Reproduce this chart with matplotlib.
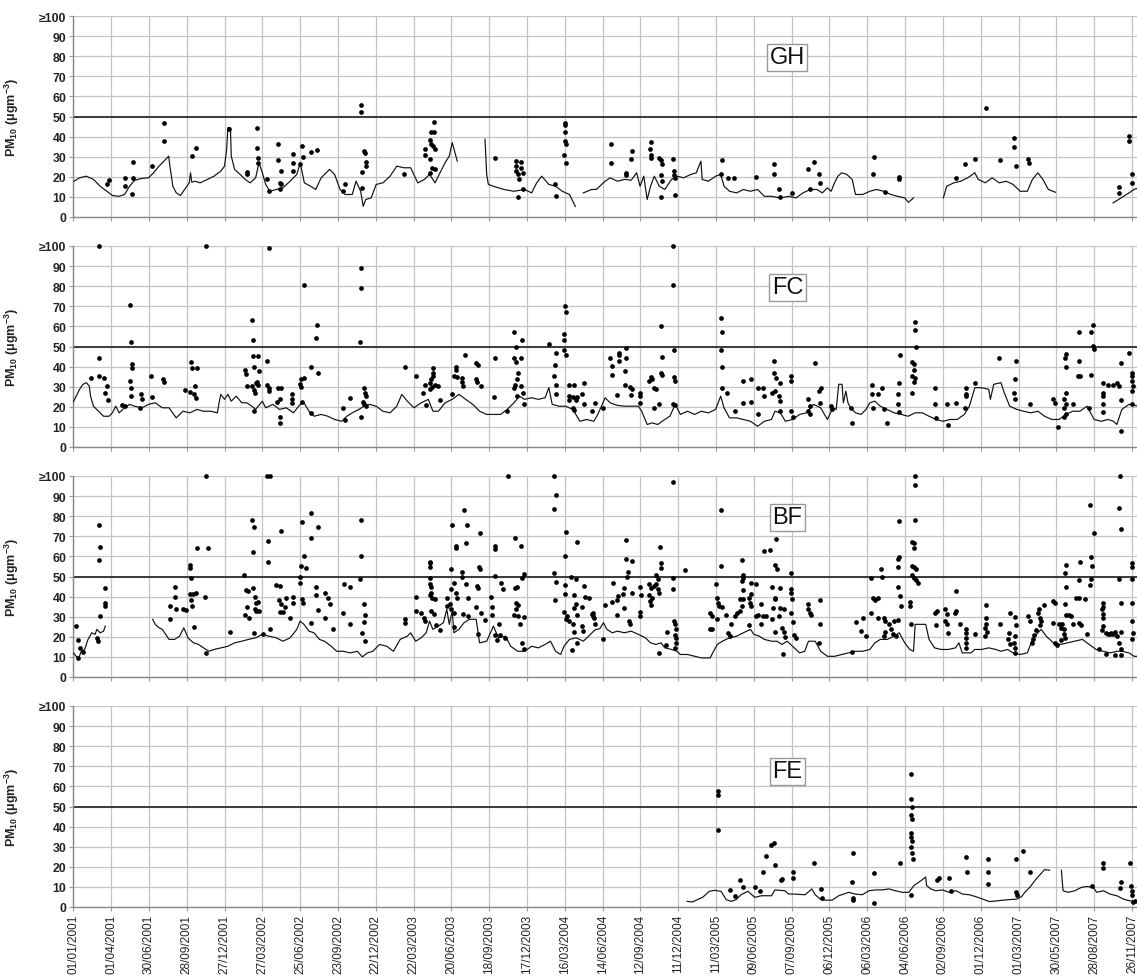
import numpy as np
import pandas as pd
import matplotlib
matplotlib.use('Agg')
import matplotlib.pyplot as plt

nan = float('nan')
START = '2001-01-01'   # day 0 of the x axis

tick_labels = ['01/01/2001', '01/04/2001', '30/06/2001', '28/09/2001', '27/12/2001',
               '27/03/2002', '25/06/2002', '23/09/2002', '22/12/2002', '22/03/2003',
               '20/06/2003', '18/09/2003', '17/12/2003', '16/03/2004', '14/06/2004',
               '12/09/2004', '11/12/2004', '11/03/2005', '09/06/2005', '07/09/2005',
               '06/12/2005', '06/03/2006', '04/06/2006', '02/09/2006', '01/12/2006',
               '01/03/2007', '30/05/2007', '28/08/2007', '26/11/2007']
y_ticks = [0, 10, 20, 30, 40, 50, 60, 70, 80, 90, 100]
y_tick_labels = ['0', '10', '20', '30', '40', '50', '60', '70', '80', '90', '≥100']
limit_value = 50
panel_names = ['GH', 'FC', 'BF', 'FE']

# ---------------- GH (day offset, PM10) ----------------
GH_LINE = [(2,17.8),(15,19.5),(31,20.3),(48,18.7),(64,15.3),(80,12.8),(93,10.7),(109,10.3),(122,11.2),(134,15.3),
 (146,18.3),(163,19.2),(179,19.5),(191,22),(204,25.3),(216,27.8),(227,30.3),(230,25.3),(237,15.3),(245,12),
 (255,10.7),(265,13.7),(276,17),(279,22),(282,17.3),(290,17.8),(302,17),(319,18.7),(335,20.3),(351,22.8),
 (360,25.3),(365,33.7),(368,44.5),(374,44.5),(376,30.3),(384,23.7),(397,21.2),(409,18.7),(421,17),(434,19.5),
 (442,27),(450,22),(458,16.2),(468,12.8),(483,13.7),(499,14.5),(516,17.8),(532,21.2),(540,27),(550,17),
 (565,15.3),(577,13.7),(590,19.5),(610,23.7),(622,21.2),(635,13.7),(647,11.2),(664,11.2),(673,17.8),(684,12.8),
 (690,5.3),(696,8.7),(709,9.5),(721,16.2),(737,17),(754,20.3),(770,25.3),(787,24.5),(803,24.5),(820,17),
 (836,18.7),(848,21.2),(861,17),(873,22),(885,27),(895,30.3),(902,37),(914,27.8),(918,nan),
 (980,38.7),(984,21.2),(988,16.2),(1000,15.3),(1025,13.7),(1049,12.8),(1074,13.7),(1091,12),(1103,17),(1115,20.3),
 (1132,16.2),(1148,15.3),(1164,12.8),(1181,11.2),(1195,5.3),(1200,nan),
 (1214,12),(1234,13.7),(1245,13.7),(1266,17.8),(1278,19.5),(1295,17.8),(1312,18.7),(1328,18.3),(1341,22),(1349,15.3),
 (1358,20.3),(1366,8.7),(1374,15.3),(1383,20.3),(1395,15.3),(1408,13.7),(1424,18.7),(1437,20.3),(1453,19.5),(1470,21.2),
 (1483,22),(1494,27.8),(1497,18.7),(1512,17.8),(1529,20.3),(1541,21.2),(1549,15.3),(1562,12.8),(1579,12),(1595,13.7),
 (1612,12.8),(1629,13.7),(1645,10.3),(1662,10.3),(1683,9.5),(1704,10.3),(1720,9.5),(1737,12),(1754,13.7),(1770,13.7),
 (1783,12),(1795,14.5),(1804,12.8),(1812,17),(1820,20.3),(1829,22),(1841,21.2),(1854,18.7),(1862,11.2),(1879,11.2),
 (1896,12.8),(1912,13.7),(1929,12.8),(1946,11.2),(1962,10.3),(1979,9.5),(1988,7.3),(2000,9.5),(2005,nan),
 (2071,9.5),(2079,15.3),(2096,17),(2112,17.8),(2129,19.5),(2146,22),(2154,18.7),(2171,17),(2187,19.5),(2204,17),
 (2221,17.8),(2237,16.2),(2254,12.8),(2271,12.8),(2283,18.7),(2296,22),(2308,18.7),(2321,13.7),(2338,12.3),(2345,nan),
 (2475,7),(2488,8.7),(2500,10.3),(2513,12),(2525,13.7),(2536,14.5)]

GH_POINTS = [(80,16.3),(85,18.2),(122,19.5),(122,15.3),(142,27.5),(142,19.5),(140,11.5),(187,25.3),(216,47),(216,37.8),
 (282,30.3),(292,34.2),(370,44),(413,22.5),(413,21.2),(438,44.5),(438,34.5),(440,29.5),(440,27),(462,19),
 (466,12.8),(487,36.2),(487,28.3),(495,22.8),(491,17),(495,16.2),(493,14),(522,31.2),(522,26.7),(524,22.8),
 (544,35.3),(547,29.8),(540,26.5),(567,32.5),(580,33.3),(647,16.5),(643,12.8),(684,55.7),(684,52),(692,32.8),
 (695,31.7),(696,27.3),(696,25.3),(688,22.5),(688,14.5),(787,21.2),(836,33.7),(836,30.8),(858,47.5),(852,42.5),
 (858,42.3),(848,38.3),(852,36.2),(856,35.3),(860,34),(850,28.7),(854,24.5),(860,24),(850,22),(1004,29.3),
 (1054,27.7),(1066,27.3),(1054,25.3),(1066,24.5),(1054,22.8),(1070,22),(1058,21.2),(1062,19),(1070,13.7),(1058,9.8),
 (1146,16.2),(1148,10.3),(1170,47),(1170,45.7),(1170,42.5),(1170,37.7),(1172,36.5),(1168,30.8),(1172,26.7),
 (1280,36.5),(1280,27),(1316,22),(1316,20.8),(1330,32.8),(1328,28.7),(1374,37.3),(1372,33.7),(1374,30.8),(1374,29.2),
 (1395,29.5),(1399,28.3),(1401,26.2),(1399,20.7),(1401,17.8),(1399,10),(1428,29),(1430,22.8),(1430,20.8),(1432,19.5),
 (1432,10.8),(1543,28.3),(1541,21.2),(1558,19.2),(1572,19.2),(1624,19.8),(1669,26.2),(1669,21.2),(1681,14),(1683,10),
 (1710,11.7),(1750,24),(1764,27.2),(1775,21.2),(1777,17),(1754,14),(1906,30),(1904,21.2),(1933,12.3),(1966,19.8),
 (1966,19),(2100,19.2),(2123,26.2),(2146,29),(2173,54.2),(2206,28.2),(2239,39.2),(2240,35),(2244,25.3),(2273,29),
 (2276,27),(2513,40.3),(2513,37.8),(2521,21.2),(2521,17),(2488,14.8),(2488,12)]

# ---------------- FC ----------------
FC_LINE = [(0,22.5),(7,25.3),(15,28.7),(23,31.2),(31,32),(38,30.3),(41,25.3),(48,20.3),(60,17.8),(72,15.3),
 (85,15.3),(93,17),(101,20.3),(109,17),(122,19.5),(134,21.2),(146,20.3),(163,19.5),(179,21.2),(195,22),
 (212,19.5),(228,19.5),(245,14.5),(261,17.8),(278,17),(294,18.7),(310,17.8),(327,17.8),(343,17),(347,22),
 (351,26.2),(360,23.7),(368,26.2),(376,22.8),(388,25.3),(401,22),(413,22),(425,20.3),(434,18.7),(450,22.8),
 (458,19.5),(475,21.2),(491,18.7),(507,19.5),(524,17),(540,21.2),(549,22),(561,17.8),(573,15.3),(590,16.2),
 (606,15.3),(622,13.7),(639,12.8),(651,15.3),(664,17),(680,18.7),(692,20.3),(705,21.2),(721,20.3),(737,17.8),
 (754,17),(770,20.3),(782,26.2),(795,22.8),(811,19.5),(828,22),(845,23.7),(856,17.8),(869,17.8),(885,22),
 (902,23.7),(918,26.2),(934,23.7),(951,21.2),(967,17.8),(984,16.2),(1000,16.2),(1017,16.2),(1033,18.7),(1049,22),
 (1062,25.3),(1074,23.7),(1091,24.5),(1107,23.7),(1123,24.5),(1132,29.5),(1140,21.2),(1156,20.3),(1172,20.3),(1189,18.7),
 (1206,12.8),(1222,13.7),(1239,12.8),(1248,16),(1257,20.3),(1266,24.5),(1278,22),(1295,20.7),(1312,20.3),(1328,20.3),
 (1345,20.3),(1353,17.8),(1366,11.2),(1378,12),(1391,11.2),(1408,13.7),(1420,15.3),(1433,21.2),(1445,16.2),(1462,17.8),
 (1479,16.2),(1495,17.8),(1512,17),(1529,18.7),(1541,25.3),(1549,19.5),(1562,14.5),(1579,14.5),(1595,13.7),(1612,12.8),
 (1629,10.3),(1645,12.8),(1662,13.7),(1670,17.8),(1683,17),(1695,12.8),(1712,13.7),(1729,16.2),(1745,17),(1762,21.2),
 (1779,19.5),(1795,13.7),(1808,19.5),(1816,18.7),(1822,31.2),(1830,31.2),(1833,22),(1839,27.8),(1844,22),(1850,19.5),
 (1862,17),(1875,16.2),(1887,18.7),(1896,22),(1908,22.8),(1921,20.3),(1937,18.7),(1954,17),(1971,16.2),(1987,15.3),
 (2004,17),(2021,17),(2037,15.3),(2054,13.7),(2071,12.8),(2087,13.7),(2104,13.7),(2121,16.2),(2133,20.3),(2146,29.5),
 (2162,29.5),(2179,28.7),(2183,23.7),(2191,31.2),(2208,32),(2216,27),(2229,20.3),(2246,18.7),(2262,17.8),(2279,17),
 (2296,17.8),(2312,15.3),(2329,13.7),(2346,13.7),(2363,16.2),(2379,17.8),(2396,17.8),(2413,20.3),(2430,13.7),(2447,12.8),
 (2463,13.7),(2476,12.8),(2484,11.2),(2496,18.7),(2513,21.2),(2536,20.3)]

FC_POINTS = [(62,100),(62,44.2),(42,34.2),(60,35.3),(72,34.2),(80,30.3),(75,27),(83,23.3),(135,70.8),(138,52),
 (140,41.2),(140,39.5),(136,32.8),(138,29.5),(138,25.3),(117,20.8),(122,20.3),(160,26.5),(164,24),(158,19.5),
 (186,35.3),(187,25),(214,33.7),(216,32.5),(280,42.5),(282,39.5),(294,39.2),(265,28.3),(278,27.3),(287,26.5),
 (290,30.3),(292,24.2),(317,100),(409,38.2),(411,36.2),(425,63.2),(427,53.3),(428,45.3),(440,45.3),(430,40),
 (442,37.8),(438,32.5),(434,31.7),(440,30.8),(413,30.3),(425,30.3),(430,28.3),(432,27),(430,17.8),(462,42.8),
 (466,99.2),(462,30.8),(465,29.2),(466,27.8),(487,29.5),(495,29.5),(491,24),(485,22.3),(491,15),(491,12),
 (520,26.2),(520,24),(520,22),(549,80.8),(543,33.7),(550,34.2),(540,31.5),(543,30),(544,22.3),(565,17),
 (580,60.8),(577,54.2),(567,40),(582,37),(647,13.2),(643,19.2),(658,24.2),(684,89.2),(684,79),(682,52),
 (692,29.2),(695,26.7),(696,25.3),(690,22.5),(692,21.2),(696,20.3),(684,15),(789,40),(815,35.3),(836,30.8),
 (833,27),(840,20.8),(856,39.5),(856,37),(856,35.3),(852,33.7),(848,31.7),(860,30.8),(854,29.8),(848,28.7),
 (869,30.3),(873,23.3),(910,40),(910,38.3),(906,35.3),(914,35),(925,34.5),(926,32.5),(933,45.8),(928,30.3),
 (902,26.2),(959,42),(963,40.8),(959,33.7),(962,32.3),(971,30.3),(1004,44.2),(1002,25),(1050,57),(1067,53.3),
 (1053,50),(1050,44.5),(1066,44.2),(1053,42.5),(1058,37),(1055,34),(1051,30.8),(1049,29.5),(1066,30.3),(1070,27),
 (1056,25.3),(1074,21.2),(1033,17.8),(1132,51.2),(1150,47),(1146,40.8),(1170,70.3),(1172,67.3),(1168,56.2),(1168,53.2),
 (1168,48.2),(1172,45.8),(1144,35.3),(1148,30.8),(1148,26.2),(1181,30.8),(1193,30.8),(1216,32),(1181,25.3),(1189,25),
 (1200,25),(1212,26.2),(1181,23.2),(1197,23.2),(1216,21.2),(1189,19.5),(1193,18.3),(1235,17.8),(1241,22),
 (1262,19.5),(1278,44.2),(1283,40.3),(1283,35.8),(1298,47),(1298,45.8),(1299,42.8),(1316,49.2),(1316,44.2),(1314,37.8),
 (1314,30.8),(1324,30),(1331,28.7),(1295,25.8),(1328,25.8),(1349,26.7),(1350,25.3),(1349,22),(1374,35),(1377,33.7),
 (1370,32.8),(1383,29.5),(1387,28.7),(1383,19.2),(1395,21.2),(1399,60),(1402,45),(1399,37),(1402,35.8),(1428,100),
 (1428,80.8),(1431,48.2),(1431,35),(1432,32.8),(1428,21.2),(1432,20.7),(1541,64.2),(1543,57),(1541,48.2),(1543,40),
 (1543,29.2),(1556,27),(1574,17.8),(1595,22),(1594,32.8),(1614,33.7),(1612,22.5),(1629,29.5),(1641,29.5),(1629,16.5),
 (1645,25.3),(1669,42.8),(1669,37),(1673,34.2),(1683,32),(1662,26.7),(1670,27.8),(1679,25.3),(1683,22.8),(1683,17.8),
 (1708,35.3),(1709,32.8),(1708,17.8),(1714,14.8),(1765,42),(1779,29.2),(1775,27.8),(1777,22),(1750,23.7),(1754,20.3),
 (1750,17.8),(1754,16.2),(1804,20.3),(1806,18.7),(1852,19.5),(1854,12),(1902,30.8),(1902,26.5),(1916,26.5),(1925,29.5),
 (1904,19.2),(1929,18.7),(1936,12),(1969,45.8),(1965,32),(1962,26.2),(1962,21.2),(1965,17.3),(2004,62),(2004,58.2),
 (2006,50),(1996,42.5),(2000,41.2),(2000,38.3),(1996,35.3),(2004,34.2),(2000,32.5),(1996,26.7),(2052,29.2),(2052,21.2),
 (2054,14.2),(2079,21.2),(2083,10.8),(2101,22),(2125,29.2),(2125,26.2),(2126,25.3),(2123,19.2),(2146,32),(2204,44.2),
 (2244,42.8),(2241,33.7),(2240,26.7),(2241,23.7),(2277,21.2),(2333,23.7),(2337,22),(2344,9.8),(2363,46.2),(2361,44.5),
 (2362,40),(2363,27),(2358,23.7),(2362,21.2),(2358,19.5),(2363,16.2),(2358,15),(2379,21.2),(2394,57),(2393,42.8),
 (2391,35.3),(2397,35.3),(2417,19.2),(2423,35.8),(2427,60.8),(2423,57),(2427,50.3),(2429,49),(2451,32),(2463,30.8),
 (2476,30.8),(2484,32),(2488,30.3),(2451,27),(2451,25.3),(2451,21.2),(2450,17.3),(2494,42),(2494,23.2),(2494,7.8),
 (2513,47),(2519,37),(2521,35.3),(2519,32.8),(2522,30.3),(2521,27.8),(2519,21.2)]

# ---------------- BF ----------------
BF_LINE = [(0,12),(7,10.3),(13,9.5),(19,12.8),(27,13.7),(35,18.7),(44,22),(52,21.2),(56,23.7),(64,22),
 (72,22.8),(76,25.3),(80,nan),
 (189,28.7),(195,26.2),(204,24.5),(212,23.7),(220,21.2),(228,18.7),(241,18.7),(253,20.3),(263,24.5),(273,19.5),
 (286,17),(298,16.2),(310,14.5),(323,12.8),(335,13.7),(351,14.5),(368,15.3),(384,17),(401,17.8),(417,18.7),
 (434,19.5),(450,21.2),(466,20.3),(483,19.5),(499,17.8),(516,19.5),(532,23.7),(540,27.8),(549,26.2),(561,22.8),
 (573,22),(586,18.7),(598,17.8),(614,15.3),(627,12.8),(643,12.8),(659,12),(676,12.8),(688,10),(700,12),
 (713,12.8),(729,16.2),(746,15.3),(762,12.8),(778,18.7),(795,20.3),(803,22),(815,17.8),(828,19.5),(840,22),
 (848,27.8),(856,23.7),(869,25.3),(881,27),(889,33.7),(895,26.2),(902,32.8),(906,22),(918,23.7),(930,27),
 (943,28.7),(959,28.7),(967,17),(984,17.8),(1000,25.3),(1012,19.5),(1029,20.3),(1041,15.3),(1058,12.8),(1074,12.8),
 (1091,15.3),(1107,14.5),(1123,16.2),(1136,17.8),(1148,12.8),(1160,11.2),(1168,15.3),(1181,18.7),(1197,19.5),(1214,17.8),
 (1230,21),(1242,23.5),(1253,24),(1262,27),(1270,23.7),(1283,22),(1295,22.8),(1312,22),(1328,22.8),(1345,21.2),
 (1362,19.5),(1374,17),(1387,16.2),(1399,17),(1408,14.5),(1424,13.7),(1437,12.8),(1445,11.2),(1462,11.2),(1479,10.3),
 (1495,9.5),(1516,9.5),(1524,12.8),(1533,16.2),(1545,17.8),(1562,19.5),(1579,20.3),(1595,22),(1612,23.7),(1620,21.2),
 (1633,20.3),(1645,18.7),(1662,17.8),(1675,17.8),(1687,16.2),(1699,17.8),(1712,15.3),(1729,12),(1741,12.8),(1750,17.8),
 (1766,17.8),(1779,12.8),(1795,10.3),(1812,10.3),(1829,11.2),(1845,12),(1862,12.8),(1879,12.8),(1896,13.7),(1908,17),
 (1921,18.7),(1937,18.7),(1954,20.3),(1966,22),(1979,17),(1991,13.7),(2000,12.8),(2004,26.2),(2029,26.2),(2037,18.7),
 (2050,14.5),(2066,13.7),(2083,13.7),(2100,14.5),(2108,17),(2116,12),(2137,12),(2146,13.7),(2162,13.7),(2179,14.5),
 (2196,13.7),(2208,12.8),(2224,13.7),(2237,12),(2254,11.2),(2271,12),(2283,18.7),(2296,22),(2304,23.7),(2316,20.3),
 (2333,17),(2350,16.2),(2366,17),(2383,17.8),(2402,18.7),(2418,16.2),(2435,13.7),(2451,12.8),(2468,12),(2484,12.8),
 (2496,12.8),(2513,12),(2525,10.3),(2536,10.3)]

BF_POINTS = [(7,25.3),(12,18.3),(16,14.5),(23,12.5),(11,9.5),(56,19.5),(58,17.8),(62,75.7),(63,64.5),(60,58.3),
 (63,30.3),(75,44.5),(75,36.7),(76,35.3),(230,28.7),(231,35.3),(241,45),(243,39.8),(245,34),(261,34),
 (269,33.3),(278,55.8),(278,54.2),(280,49.5),(278,41.2),(286,41.5),(292,42),(280,38.2),(282,35.3),(287,25),
 (294,64.2),(313,39.8),(317,100),(320,64.2),(315,12),(374,22.3),(407,50.7),(425,78.2),(430,74.8),(427,62.3),
 (410,43.3),(415,42.8),(427,44.5),(432,40),(435,36.7),(440,37.3),(413,35),(432,33.7),(434,32.8),(442,32.8),
 (409,30.8),(419,29.5),(430,22),(452,21.5),(462,100),(468,100),(464,67.8),(464,57.3),(468,23.7),(483,45.8),
 (493,45.3),(494,72.5),(489,38.2),(495,36.5),(491,32.3),(499,32.3),(503,34.8),(507,39.5),(517,29.2),(522,39.8),
 (522,37),(544,77),(549,60.3),(543,55.3),(555,54.2),(540,50),(540,46.7),(544,38.7),(547,37),(567,81.7),
 (567,69),(582,74.8),(577,45),(577,40.7),(598,42),(606,39.5),(610,36.2),(583,33.3),(600,29.5),(565,26.7),
 (617,24),(645,46.2),(659,45),(643,31.7),(658,26.5),(684,78.2),(684,60),(682,49),(692,36.5),(695,30.8),
 (692,27.3),(688,21.7),(694,17.8),(789,29),(789,27),(815,39.8),(815,32.8),(828,31.7),(834,29.5),(836,27.8),
 (848,57.3),(850,56.5),(850,54.5),(848,49.5),(848,46.2),(852,45),(852,41.7),(848,40.7),(854,39.5),(860,38.7),
 (852,32.8),(858,31.5),(863,25.8),(873,23.3),(898,53.7),(902,75.7),(910,65),(910,64),(898,43.7),(906,46.7),
 (889,39.5),(896,36.5),(889,35.3),(898,33.7),(910,41.7),(913,39.5),(906,31.7),(906,25),(930,83.3),(937,75.7),
 (934,66.7),(925,52),(925,50),(934,46.2),(940,39.2),(928,31.5),(939,30.3),(969,71.5),(966,54.8),(969,53.7),
 (962,45.3),(963,44.5),(958,34.8),(971,32),(980,28.3),(963,21.5),(1004,65),(1004,63.7),(1004,50.3),(994,39.8),
 (996,34.8),(1019,46.7),(1022,43.7),(996,30.8),(1014,26.2),(1004,20.7),(1008,18.3),(1015,20.8),(1027,19.5),(1035,100),
 (1051,69),(1066,65),(1072,51.2),(1067,49.5),(1055,45),(1051,44.2),(1053,37),(1058,35.7),(1053,34),(1050,30.8),
 (1058,30.3),(1074,30),(1064,26.5),(1067,17),(1074,13.7),(1144,100),(1148,90.3),(1144,83.7),(1172,72),(1170,60.3),
 (1144,51.7),(1148,47.5),(1146,38.2),(1185,50),(1197,49),(1200,67.3),(1170,45.7),(1170,41.2),(1193,40.8),(1216,45.3),
 (1219,40),(1212,35),(1168,32.5),(1176,30.3),(1173,28.7),(1181,27.8),(1189,26.2),(1197,36.5),(1193,34.2),(1200,30.8),
 (1193,22.5),(1214,22.8),(1210,25.3),(1200,17),(1186,13.2),(1235,31.2),(1239,29.5),(1241,26.2),
 (1237,32),(1238,30.3),(1228,39.5),(1262,19),(1266,35.8),(1283,37.5),(1285,47),(1294,30.8),(1295,38.3),(1297,40.3),
 (1308,41.2),(1310,44.2),(1312,34.2),(1316,68.2),(1316,58.7),(1331,57.8),(1320,52),(1318,50),(1331,42),(1322,27.8),
 (1324,26.2),(1349,45),(1351,40.8),(1349,32.5),(1349,30.3),(1370,46.2),(1374,44.2),(1370,40.7),(1377,39.5),(1372,37.8),
 (1374,35.8),(1383,45.3),(1387,46.5),(1391,43.7),(1395,41.7),(1387,50.7),(1391,49),(1397,64.5),(1399,56.7),(1399,54.2),
 (1395,12),(1413,22.5),(1411,15.8),(1428,97),(1427,49.5),(1428,44),(1431,27.8),(1432,26.2),(1435,23.7),(1432,20.8),
 (1435,19.5),(1435,17),(1432,14.5),(1455,53.2),(1516,24),(1520,23.7),(1516,32),(1521,30.3),(1531,46.5),(1533,39.2),
 (1535,37),(1537,35.3),(1533,28.7),(1541,83.3),(1541,55.3),(1545,35),(1554,30.8),(1558,21.7),(1562,20.3),(1566,26.2),
 (1574,30.3),(1579,32),(1587,32.8),(1591,58.3),(1594,50.7),(1595,49.5),(1591,47.8),(1587,38.7),(1595,38.7),(1591,35.3),
 (1595,43.3),(1608,39.5),(1612,41.2),(1612,47),(1624,46.5),(1610,37),(1614,35.3),(1608,25.8),(1624,30.3),(1637,36.2),
 (1629,30.8),(1641,30.3),(1649,30.3),(1637,26.2),(1644,62.5),(1658,63.3),(1673,68.7),(1670,55.7),(1675,53.7),(1664,45),
 (1670,39.5),(1670,38.7),(1666,34.5),(1683,34.5),(1691,33.7),(1679,30.3),(1683,44.2),(1662,28.7),(1670,22.5),(1687,24.5),
 (1691,22.5),(1695,20),(1689,11.2),(1708,51.7),(1708,43.7),(1708,42),(1710,38.7),(1708,32),(1712,27.5),(1716,20.8),
 (1720,19.5),(1750,36.2),(1750,33.7),(1754,32),(1756,30.8),(1777,38.3),(1777,26.2),(1775,17),(1854,12.3),(1862,27.5),
 (1875,22.8),(1879,29.2),(1887,20.3),(1899,49.2),(1899,32),(1904,39.5),(1908,38.3),(1916,39.5),(1923,53.7),(1925,50),
 (1916,29.5),(1929,29.5),(1933,27.8),(1941,26.2),(1933,22.3),(1929,20.3),(1946,23.7),(1954,27.8),(1962,28.3),(1950,21.2),
 (1958,20.3),(1962,58.7),(1966,59.5),(1964,54.5),(1966,77.8),(1964,45),(1969,40.3),(1971,35.3),(1991,37.5),(1991,35.3),
 (2004,100),(2004,95.7),(2004,78.2),(1996,67.3),(2000,66.7),(2002,64.2),(1996,55),(2000,54.5),(2006,53.7),(1996,50.7),
 (2002,49.5),(2006,48.2),(2011,46.7),(1994,26.2),(2052,32),(2056,32.8),(2054,25.8),(2075,33.7),(2079,31.2),(2075,27.8),
 (2079,26.2),(2081,22),(2100,42.8),(2101,32.8),(2098,31.7),(2111,26.5),(2125,23.7),(2125,22),(2125,19.5),(2125,17),
 (2125,14.2),(2146,21.2),(2173,35.7),(2173,29.5),(2173,26.2),(2171,24.5),(2175,22.5),(2171,20.3),(2206,26.5),(2229,32),
 (2228,22),(2225,18.7),(2229,16.2),(2241,30),(2241,20.3),(2240,17),(2241,14.5),(2241,11.7),(2244,25.8),(2273,30.3),
 (2277,27.8),(2283,17),(2285,18.7),(2287,20.8),(2291,23.2),(2296,32),(2298,33.7),(2300,29.5),(2303,27.8),(2300,25.8),
 (2311,35.7),(2333,37.8),(2337,37),(2333,27),(2337,17),(2341,15.8),(2350,24.5),(2346,26.2),(2354,26.2),(2358,23.7),
 (2358,21.5),(2361,19.5),(2350,18.3),(2361,36.2),(2363,30.8),(2369,30.8),(2363,55.8),(2361,51.5),(2364,45),(2375,30.3),
 (2379,26.2),(2387,39.2),(2396,57),(2393,48.3),(2393,39.2),(2393,27),(2399,25.8),(2409,38.7),(2413,21.2),(2421,85.8),
 (2429,71.5),(2423,59.5),(2425,55),(2422,49),(2419,45.8),(2451,37),(2450,34.8),(2448,33.7),(2450,31.5),(2450,29.2),
 (2450,25.3),(2448,23.3),(2459,22),(2463,21.2),(2467,21.5),(2471,22),(2476,21.2),(2480,22.5),(2494,22.5),(2494,13.7),
 (2484,20.3),(2488,17),(2459,11.2),(2442,13.7),(2480,10.7),(2494,10.7),(2492,100),(2488,84.2),(2494,73.7),(2488,48.7),
 (2494,37),(2521,56.7),(2519,54.5),(2519,48.7),(2521,37),(2519,27.8),(2522,22),(2519,18.7)]

# ---------------- FE ----------------
FE_LINE = [(1461,2.8),(1474,2.5),(1486,3.7),(1498,4.8),(1514,7.8),(1526,8.3),(1542,7.8),(1554,3.7),(1566,2.8),(1578,3.7),
 (1590,6.2),(1606,7.8),(1622,4.8),(1638,5.6),(1662,5.6),(1670,8.5),(1694,8.1),(1702,6.5),(1718,6.4),(1742,6.1),
 (1758,9),(1766,6.1),(1778,3.9),(1790,3.4),(1806,3.4),(1822,5.6),(1846,7.3),(1862,6.4),(1878,6.1),(1894,8.1),
 (1910,8.5),(1926,8.5),(1941,9),(1957,8.1),(1973,7.3),(1989,7.3),(2001,10.7),(2013,12.4),(2021,13.6),(2029,14.9),
 (2031,10.7),(2041,9),(2053,8.1),(2069,8.5),(2085,7.3),(2101,8.1),(2117,6.4),(2133,6.1),(2149,5.1),(2165,3.9),
 (2181,2.7),(2197,3),(2213,3.4),(2229,3.7),(2245,3.9),(2257,5.1),(2265,7.3),(2277,9.8),(2289,13.2),(2300,15.8),
 (2312,18.6),(2324,18.3),(2330,nan),
 (2352,18.3),(2356,8.1),(2368,7.3),(2384,8.1),(2400,9.8),(2412,10.2),(2428,9.8),(2436,7.3),(2452,8.1),(2468,6.4),
 (2484,5.6),(2500,3.9),(2516,3),(2536,3)]

FE_POINTS = [(1535,57.7),(1535,55.7),(1535,38.3),(1562,8.7),(1586,13.2),(1574,5.7),(1594,10),(1622,10),(1634,7.8),
 (1642,17.5),(1650,25.4),(1660,30.8),(1668,31.8),(1670,20.8),(1686,14),(1684,13.2),(1712,17.5),(1714,14.6),
 (1764,22),(1780,9),(1782,4.7),(1855,27),(1854,12.4),(1856,4.7),(1856,3.4),(1905,17),(1907,2.2),(1969,22),
 (1993,6.1),(1995,66),(1995,53.7),(1997,49.8),(1995,46),(1997,43.8),(1993,37),(1995,35),(1997,33),(1995,30),
 (1997,27),(1999,24),(2060,14.6),(2057,13.2),(2085,14.6),(2089,8.1),(2125,25),(2127,17.6),(2177,23.7),(2178,17.5),
 (2178,11.5),(2245,23.7),(2243,7.3),(2246,6.1),(2277,17.5),(2260,28),(2452,21.7),(2450,19.2),(2424,10.2),(2494,12.4),
 (2492,9.5),(2516,22),(2518,10.2),(2520,8.1),(2520,6.1),(2522,2.7),(2528,3)]

LINES = [GH_LINE, FC_LINE, BF_LINE, FE_LINE]
POINTS = [GH_POINTS, FC_POINTS, BF_POINTS, FE_POINTS]
label_pos = [(1700, 79.5), (1700, 79.5), (1700, 79.5), (1700, 67.5)]

# ---------------- drawing ----------------
plt.rcParams['font.family'] = ['Liberation Sans', 'DejaVu Sans']
plt.rcParams['mathtext.default'] = 'regular'

W, H = 1137, 978
fig = plt.figure(figsize=(W / 100, H / 100), dpi=100)
fig.patch.set_facecolor('white')

start = pd.Timestamp(START)
tick_pos = [(pd.to_datetime(t, dayfirst=True) - start).days for t in tick_labels]
x_max = 2532

left_px, top0, h_px, step = 73.3, 17, 201, 230
for i, name in enumerate(panel_names):
    top_px = top0 + step * i
    ax = fig.add_axes([left_px / W, 1 - (top_px + h_px) / H, 1 - left_px / W, h_px / H])
    ax.set_xlim(0, x_max)
    ax.set_ylim(0, 100)
    ax.set_yticks(y_ticks)
    ax.set_yticklabels(y_tick_labels)
    ax.set_xticks(tick_pos)
    if i == len(panel_names) - 1:
        ax.set_xticklabels(tick_labels, rotation=90, fontsize=8.5, color='#222222')
    else:
        ax.set_xticklabels([])
    ax.tick_params(axis='y', length=3, width=0.8, color='#999999', labelsize=8.8,
                   labelcolor='#222222', pad=2)
    ax.tick_params(axis='x', length=3, width=0.8, color='#999999', pad=2)
    for lab in ax.get_yticklabels():
        lab.set_fontweight('bold')
    ax.grid(True, color='#c4c4c4', lw=0.9, zorder=0)
    ax.set_axisbelow(True)
    for s in ['top', 'right']:
        ax.spines[s].set_visible(False)
    ax.spines['left'].set_color('#888888')
    ax.spines['bottom'].set_color('#888888')
    ax.spines['left'].set_linewidth(1.0)
    ax.spines['bottom'].set_linewidth(1.0)
    ax.axhline(limit_value, color='#3a3a3a', lw=1.4, zorder=2)

    ld = [p[0] for p in LINES[i]]
    lv = [p[1] for p in LINES[i]]
    ax.plot(ld, lv, color='#111111', lw=0.85, zorder=3)
    pdx = [p[0] for p in POINTS[i]]
    pvy = [p[1] for p in POINTS[i]]
    ax.plot(pdx, pvy, 'o', color='black', ms=3.4, mew=0, clip_on=False, zorder=4)

    ax.text(label_pos[i][0], label_pos[i][1], name, fontsize=17, ha='center', va='center',
            color='#111111', zorder=5,
            bbox=dict(boxstyle='square,pad=0.1', fc='white', ec='#999999', lw=1.0))
    ax.set_ylabel('PM$_{10}$ (μgm$^{-3}$)', fontsize=9, fontweight='bold', color='#222222')
    ax.yaxis.set_label_coords(-(left_px - 21) / (W - left_px), 0.5)

fig.savefig('out.png', dpi=100, facecolor='white')
